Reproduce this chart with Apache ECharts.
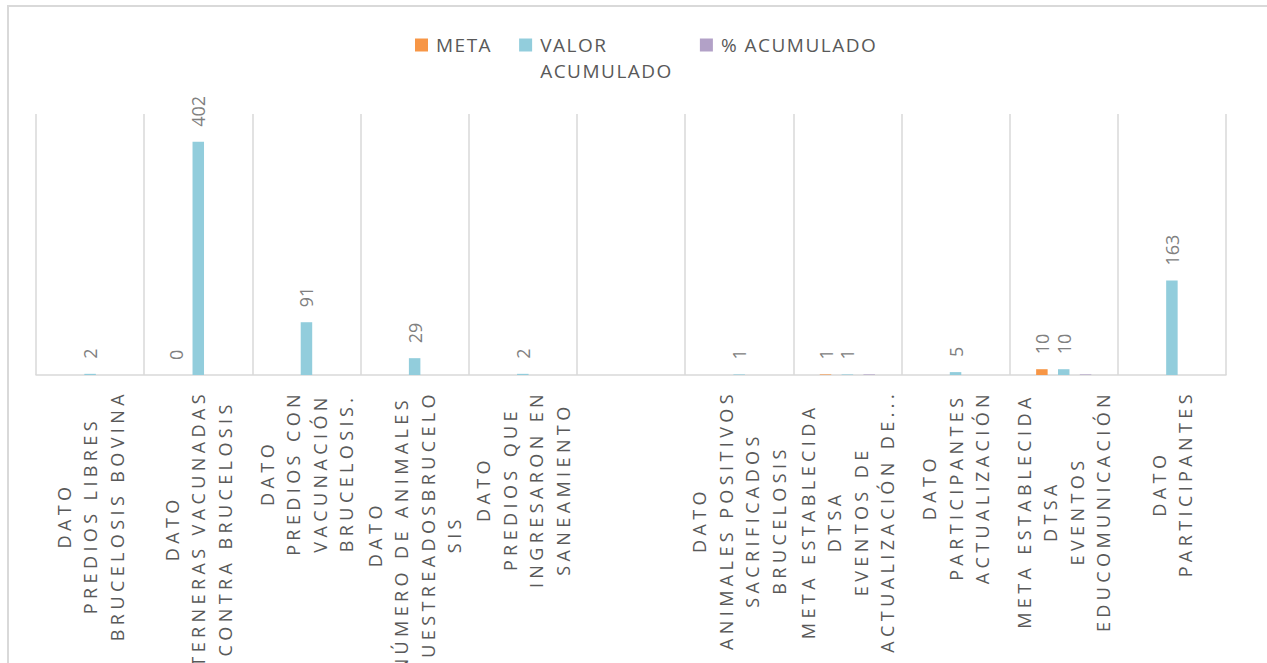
<!DOCTYPE html>
<html>
<head>
<meta charset="utf-8">
<script src="https://cdn.jsdelivr.net/npm/echarts@6/dist/echarts.min.js"></script>
<style>
  html, body { margin: 0; padding: 0; background: #ffffff; }
  #chart { width: 1267px; height: 663px; }
  /* letter-spaced category labels (marker family "Lato") and legend (marker "Roboto") */
  text[style*="Lato"] { letter-spacing: 4.4px; }
  text[style*="Roboto"] { letter-spacing: 1.5px; }
</style>
</head>
<body>
<div id="chart"></div>
<script>
// ---- data ----
const categories = [
  "DATO\nPREDIOS LIBRES\nBRUCELOSIS BOVINA",
  "DATO\nTERNERAS VACUNADAS\nCONTRA BRUCELOSIS",
  "DATO\nPREDIOS CON\nVACUNACIÓN\nBRUCELOSIS.",
  "DATO\nNÚMERO DE ANIMALES\nMUESTREADOSBRUCELO\nSIS",
  "DATO\nPREDIOS QUE\nINGRESARON EN\nSANEAMIENTO",
  "",
  "DATO\nANIMALES POSITIVOS\nSACRIFICADOS\nBRUCELOSIS",
  "META ESTABLECIDA\nDTSA\nEVENTOS DE\nACTUALIZACIÓN DE...",
  "DATO\nPARTICIPANTES\nACTUALIZACIÓN",
  "META ESTABLECIDA\nDTSA\nEVENTOS\nEDUCOMUNICACIÓN",
  "DATO\nPARTICIPANTES"
];
const seriesNames = ["META", "VALOR ACUMULADO", "% ACUMULADO"];
const metaValues  = [null, 0, null, null, null, null, null, 1, null, 10, null];
const valorValues = [2, 402, 91, 29, 2, null, 1, 1, 5, 10, 163];
const pctValues   = [null, null, null, null, null, null, null, 1, null, 1, null];

// ---- letter-spacing aware text measuring ----
const mctx = document.createElement('canvas').getContext('2d');
if (echarts.setPlatformAPI) {
  echarts.setPlatformAPI({
    measureText: function (text, font) {
      mctx.font = font || '12px sans-serif';
      let w = mctx.measureText(text).width;
      const n = (text || '').length;
      if (font && font.indexOf('Lato') >= 0) w += n * 4.4;
      else if (font && font.indexOf('Roboto') >= 0) w += n * 1.5;
      return { width: w };
    }
  });
}

const AXIS_FONT = '"Open Sans", Lato';
const LEGEND_FONT = '"Open Sans", Roboto';
const PLAIN_FONT = '"Open Sans", sans-serif';

const chart = echarts.init(document.getElementById('chart'), null, { renderer: 'svg', width: 1267, height: 663 });

const barLabel = {
  show: true,
  position: 'top',
  distance: 15,
  rotate: 90,
  align: 'left',
  verticalAlign: 'middle',
  fontSize: 18,
  fontFamily: PLAIN_FONT,
  color: '#808080'
};

const option = {
  backgroundColor: '#ffffff',
  animation: false,
  graphic: [{
    type: 'rect',
    silent: true,
    z: -10,
    shape: { x: 8, y: 6, width: 1400, height: 800 },
    style: { fill: 'none', stroke: '#d9d9d9', lineWidth: 2 }
  }],
  legend: {
    left: 415,
    top: 6,
    padding: 0,
    itemWidth: 13,
    itemHeight: 13,
    itemGap: 27,
    icon: 'rect',
    // wrapped legend entry: an empty first line keeps "VALOR" level with its marker
    formatter: function (name) { return name === 'VALOR ACUMULADO' ? ' \nVALOR\nACUMULADO' : name; },
    textStyle: { fontSize: 19, fontFamily: LEGEND_FONT, color: '#595959', lineHeight: 26, padding: [0, 0, 0, 3] },
    data: seriesNames
  },
  grid: { left: 36, right: 41, top: 114, bottom: 288, containLabel: false, outerBoundsMode: 'none' },
  xAxis: {
    type: 'category',
    data: categories,
    axisTick: { show: false },
    axisLine: { show: true, lineStyle: { color: '#d9d9d9', width: 1.5 } },
    splitLine: { show: true, lineStyle: { color: '#d9d9d9', width: 1.5 } },
    axisLabel: {
      interval: 0,
      rotate: 90,
      margin: 15,
      fontSize: 18,
      fontFamily: AXIS_FONT,
      color: '#595959',
      lineHeight: 26.5,
      formatter: function (v) {
        if (!v) return '';
        return v.split('\n').map(function (l) { return '{c|' + l + '}'; }).join('\n');
      },
      rich: {
        c: { align: 'center', fontSize: 18, fontFamily: AXIS_FONT, color: '#595959', lineHeight: 26.5 }
      }
    }
  },
  yAxis: {
    type: 'value',
    min: 0,
    max: 450,
    show: false,
    splitLine: { show: false }
  },
  series: [
    {
      name: seriesNames[0], type: 'bar', data: metaValues,
      itemStyle: { color: '#F79646' },
      barGap: '90%', barCategoryGap: '49%',
      label: barLabel
    },
    {
      name: seriesNames[1], type: 'bar', data: valorValues,
      itemStyle: { color: '#92CDDC' },
      barGap: '90%', barCategoryGap: '49%',
      label: barLabel
    },
    {
      name: seriesNames[2], type: 'bar', data: pctValues,
      itemStyle: { color: '#B2A1C7' },
      barGap: '90%', barCategoryGap: '49%',
      label: { show: false }
    }
  ]
};
chart.setOption(option);
</script>
</body>
</html>
